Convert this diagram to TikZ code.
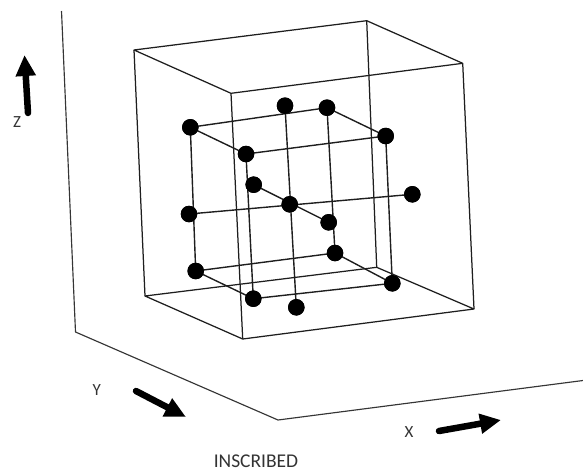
\documentclass[tikz,border=0pt]{standalone}
\usepackage{fontspec}
\setmainfont{Carlito}
\usetikzlibrary{arrows.meta}
\definecolor{ink}{HTML}{1E1E1E}
\definecolor{labelink}{HTML}{333333}
\tikzset{
  x=1pt,y=-1pt,
  atom/.style={circle,fill=black,inner sep=0pt,minimum size=16.5pt},
  frame/.style={draw=ink,line width=1.25pt,line join=round},
  axisline/.style={draw=ink!90,line width=1.15pt,line join=round},
  bond/.style={draw=ink,line width=1.4pt},
  bigarrow/.style={draw=black,line width=6.5pt,line cap=round,-{Triangle[length=21pt,width=19pt]}},
  axislabel/.style={text=labelink,font=\fontsize{17}{17}\selectfont,inner sep=0pt},
  caption/.style={text=labelink,font=\fontsize{19.5}{20}\selectfont,inner sep=0pt}
}
\begin{document}
\begin{tikzpicture}
\useasboundingbox (0,0) rectangle (583,472);
% walls
\coordinate (w1) at (61.5,11);
\coordinate (w2) at (75.5,332);
\coordinate (w3) at (278,420);
\coordinate (w4) at (583,380.5);
\draw[axisline] (w1) -- (w2) -- (w3) -- (w4);
% outer box
\coordinate (A) at (134,50);
\coordinate (B) at (366.7,20.7);
\coordinate (C) at (462.7,63.3);
\coordinate (D) at (231,93.3);
\coordinate (E) at (145,296);
\coordinate (F) at (242.7,339);
\coordinate (G) at (474,309);
\coordinate (H) at (376.7,267.3);
\draw[frame] (A) -- (B) -- (C) -- (D) -- cycle;
\draw[frame] (E) -- (F) -- (G) -- (H) -- cycle;
\draw[frame] (A) -- (E);
\draw[frame] (B) -- (H);
\draw[frame] (C) -- (G);
\draw[frame] (D) -- (F);
% atoms
\node[atom] (n1) at (190.3,127.3) {};
\node[atom] (n2) at (285,105.7) {};
\node[atom] (n3) at (327,107.7) {};
\node[atom] (n4) at (385.7,136) {};
\node[atom] (n5) at (246,154) {};
\node[atom] (n6) at (253.7,184.7) {};
\node[atom] (n7) at (289.7,204.3) {};
\node[atom] (n8) at (412.3,194.3) {};
\node[atom] (n9) at (189,214) {};
\node[atom] (n10) at (328.7,222.3) {};
\node[atom] (n11) at (335,253) {};
\node[atom] (n12) at (195.7,271) {};
\node[atom] (n13) at (253.3,298.7) {};
\node[atom] (n14) at (296.3,307.3) {};
\node[atom] (n15) at (392.3,283.3) {};
% bonds (long straight rods run behind the atoms they cross)
\foreach \a/\b in {n1/n3,n3/n4,n1/n5,n5/n4,n1/n12,n5/n13,n3/n11,
  n4/n15,n2/n14,n6/n10,n9/n8,n12/n11,n12/n13,n13/n15,n11/n15}
  \draw[bond] (\a.center) -- (\b.center);
\foreach \n in {n1,n2,n3,n4,n5,n6,n7,n8,n9,n10,n11,n12,n13,n14,n15}
  \fill[black] (\n) circle[radius=8.25pt];
% direction arrows
\coordinate (zs) at (28,113);
\coordinate (ze) at (24.5,55);
\coordinate (ys) at (136,391);
\coordinate (ye) at (186,417);
\coordinate (xs) at (439,431);
\coordinate (xe) at (501,420);
\draw[bigarrow] (zs) -- (ze);
\draw[bigarrow] (ys) -- (ye);
\draw[bigarrow] (xs) -- (xe);
% labels
\node[axislabel] (lz) at (17,122.5) {Z};
\node[axislabel] (ly) at (96.7,390.5) {Y};
\node[axislabel] (lx) at (409,432) {X};
\node[caption] (cap) at (256,461.5) {INSCRIBED};
\end{tikzpicture}
\end{document}
